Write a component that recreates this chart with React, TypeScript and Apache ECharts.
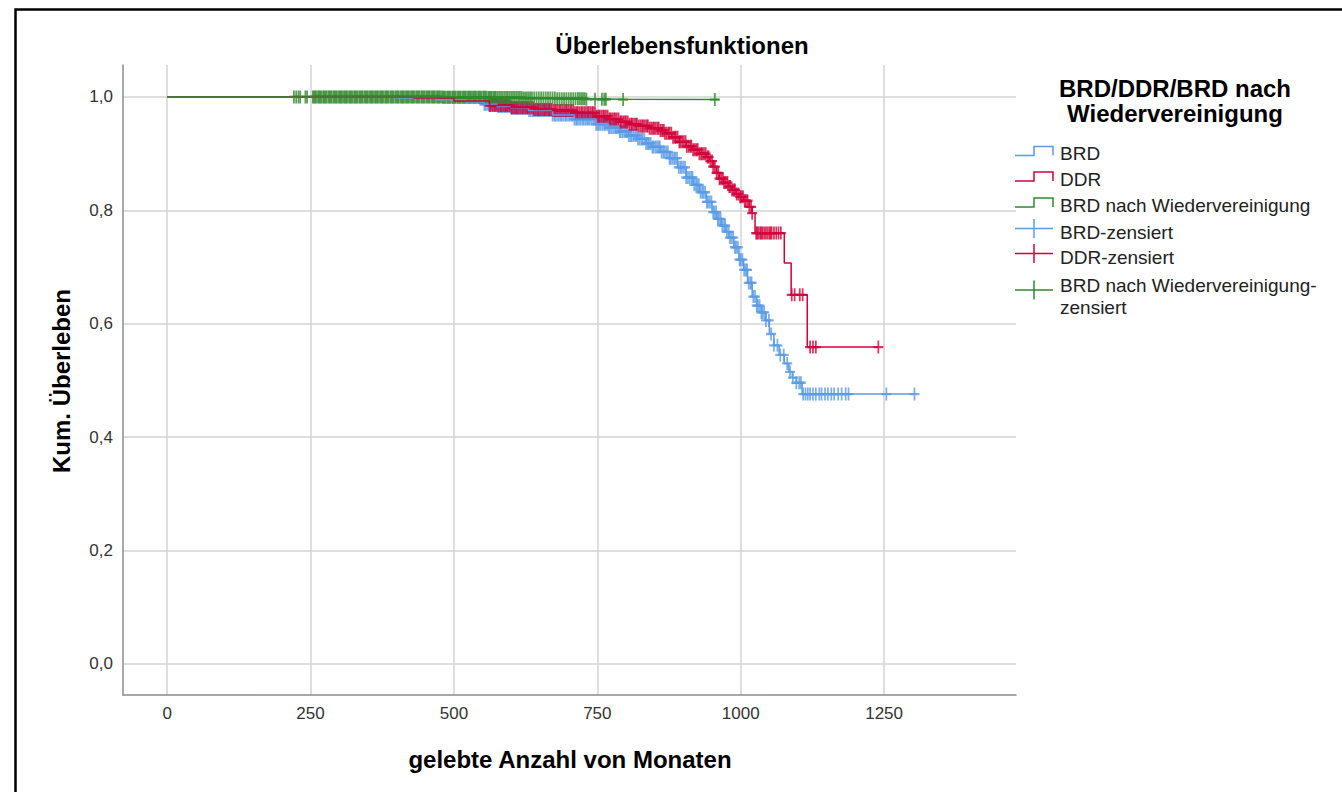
import { useEffect, useRef } from 'react';
import * as echarts from 'echarts';

// ---------- data ----------
const groupNames = ['BRD', 'DDR', 'BRD nach Wiedervereinigung'];
const censorLabels = ['BRD-zensiert', 'DDR-zensiert', 'BRD nach Wiedervereinigung-\nzensiert'];
const chartTitle = 'Überlebensfunktionen';
const legendTitle = 'BRD/DDR/BRD nach\nWiedervereinigung';
const xAxisTitle = 'gelebte Anzahl von Monaten';
const yAxisTitle = 'Kum. Überleben';
const xTicks = [0, 250, 500, 750, 1000, 1250];
const yTicks = [0, 0.2, 0.4, 0.6, 0.8, 1.0];

// Kaplan-Meier steps: [month, cumulative survival]
const brdCurve: [number, number][] = [
  [0, 1], [400, 0.998], [470, 0.995], [520, 0.991], [553, 0.987], [575, 0.983], [600, 0.98],
  [630, 0.976], [672, 0.968], [710, 0.961], [748, 0.952], [770, 0.946], [788, 0.939],
  [805, 0.932], [820, 0.926], [835, 0.918], [846, 0.912], [860, 0.903], [876, 0.892],
  [890, 0.876], [905, 0.858], [917, 0.845], [928, 0.832], [940, 0.815], [950, 0.797],
  [958, 0.785], [966, 0.773], [974, 0.762], [980, 0.752], [988, 0.735], [997, 0.713],
  [1005, 0.695], [1012, 0.672], [1020, 0.648], [1028, 0.632], [1036, 0.62], [1044, 0.606],
  [1050, 0.582], [1058, 0.562], [1067, 0.545], [1076, 0.53], [1084, 0.515], [1090, 0.505],
  [1097, 0.496], [1107, 0.476], [1305, 0.476],
];
const ddrCurve: [number, number][] = [
  [0, 1], [430, 0.998], [500, 0.993], [562, 0.985], [600, 0.981], [640, 0.978], [672, 0.976],
  [710, 0.972], [748, 0.966], [770, 0.961], [788, 0.956], [805, 0.952], [820, 0.949],
  [840, 0.945], [858, 0.941], [868, 0.936], [880, 0.929], [893, 0.921], [905, 0.913],
  [915, 0.907], [928, 0.9], [940, 0.894], [946, 0.887], [952, 0.877], [958, 0.866],
  [963, 0.856], [970, 0.849], [978, 0.842], [985, 0.836], [992, 0.829], [997, 0.824],
  [1005, 0.817], [1015, 0.806], [1020, 0.795], [1025, 0.76], [1076, 0.707], [1088, 0.651],
  [1116, 0.559], [1241, 0.559],
];
const wvCurve: [number, number][] = [
  [0, 1], [480, 0.9995], [560, 0.999], [620, 0.998], [680, 0.997], [730, 0.996], [795, 0.9955],
  [962, 0.9955],
];

// censored observations (months)
const brdCensored = [
  553, 555, 558, 561, 563, 566, 569, 572, 574, 577, 580, 582, 585, 588, 591, 593, 596, 599, 601,
  604, 607, 610, 612, 615, 618, 620, 623, 626, 629, 631, 634, 637, 639, 642, 645, 648, 650, 653,
  656, 658, 661, 664, 667, 669, 672, 675, 677, 680, 683, 686, 688, 691, 694, 696, 699, 702, 705,
  707, 710, 713, 715, 718, 721, 724, 726, 729, 732, 734, 737, 740, 743, 745, 748, 751, 753, 756,
  759, 762, 764, 767, 770, 772, 775, 778, 781, 783, 786, 789, 791, 794, 797, 800, 802, 805, 808,
  810, 813, 816, 819, 821, 824, 827, 829, 832, 835, 838, 840, 843, 846, 848, 851, 854, 857, 859,
  862, 865, 867, 870, 873, 876, 878, 881, 884, 886, 889, 892, 895, 897, 900, 903, 905, 908, 911,
  914, 916, 919, 922, 924, 927, 930, 933, 935, 938, 941, 943, 946, 949, 952, 954, 957, 960, 962,
  965, 968, 971, 973, 976, 979, 981, 984, 987, 990, 992, 995, 998, 1000, 1003, 1006, 1009, 1011,
  1014, 1017, 1019, 1022, 1025, 1028, 1030, 1033, 1036, 1038, 1041, 1044, 1049, 1053, 1058,
  1064, 1069, 1075, 1081, 1086, 1091, 1097, 1102, 1105, 1109, 1113, 1117, 1121, 1126, 1131,
  1137, 1141, 1147, 1152, 1158, 1163, 1170, 1176, 1183, 1188, 1254, 1303,
];
const ddrCensored = [
  562, 564, 567, 570, 572, 575, 578, 581, 583, 586, 589, 591, 594, 597, 600, 602, 605, 608, 610,
  613, 616, 619, 621, 624, 627, 629, 632, 635, 638, 640, 643, 646, 648, 651, 654, 657, 659, 662,
  665, 667, 670, 673, 676, 678, 681, 684, 686, 689, 692, 695, 697, 700, 703, 705, 708, 711, 714,
  716, 719, 722, 724, 727, 730, 733, 735, 738, 741, 743, 746, 749, 752, 754, 757, 760, 762, 765,
  768, 771, 773, 776, 779, 781, 784, 787, 790, 792, 795, 798, 800, 803, 806, 809, 811, 814, 817,
  819, 822, 825, 828, 830, 833, 836, 838, 841, 844, 847, 849, 852, 855, 857, 860, 863, 866, 868,
  871, 874, 876, 879, 882, 885, 887, 890, 893, 895, 898, 901, 904, 906, 909, 912, 914, 917, 920,
  923, 925, 928, 931, 933, 936, 939, 942, 944, 947, 950, 952, 955, 958, 961, 963, 966, 969, 971,
  974, 977, 980, 982, 985, 988, 990, 993, 996, 999, 1001, 1004, 1007, 1009, 1012, 1015, 1018,
  1020, 1027, 1029, 1031, 1034, 1036, 1038, 1041, 1044, 1047, 1050, 1052, 1054, 1058, 1062,
  1066, 1070, 1089, 1094, 1103, 1108, 1121, 1126, 1131, 1240,
];
const wvCensored = [
  221, 225, 229, 232, 241, 244, 254, 256, 258, 260, 263, 265, 267, 269, 272, 274, 276, 278, 281,
  283, 285, 287, 290, 292, 294, 296, 299, 301, 303, 305, 308, 310, 312, 314, 317, 319, 321, 323,
  326, 328, 330, 332, 335, 337, 339, 341, 344, 346, 348, 350, 353, 355, 357, 359, 362, 364, 366,
  368, 371, 373, 375, 377, 380, 382, 384, 386, 389, 391, 393, 395, 398, 400, 402, 404, 407, 409,
  411, 413, 416, 418, 420, 422, 425, 427, 429, 431, 434, 436, 438, 440, 443, 445, 447, 449, 452,
  454, 456, 458, 461, 463, 465, 467, 470, 472, 474, 476, 479, 481, 483, 485, 488, 490, 492, 494,
  497, 499, 501, 503, 506, 508, 510, 512, 515, 517, 519, 521, 524, 526, 528, 530, 533, 535, 537,
  539, 542, 544, 546, 548, 551, 553, 555, 557, 560, 562, 564, 566, 569, 571, 573, 576, 579, 582,
  585, 588, 591, 594, 597, 600, 603, 606, 609, 612, 615, 618, 621, 624, 627, 630, 633, 636, 640,
  644, 648, 652, 656, 660, 664, 668, 672, 676, 680, 684, 688, 692, 696, 700, 704, 708, 712, 716,
  719, 722, 725, 728, 731, 746, 758, 762, 765, 795, 955,
];

const colors = ['#5A9BE6', '#D2033B', '#2E8A2C'];
const curves = [brdCurve, ddrCurve, wvCurve];
const censored = [brdCensored, ddrCensored, wvCensored];

// survival value of a step curve at time t (last step at or before t)
function survivalAt(curve: [number, number][], t: number): number {
  let s = curve[0][1];
  for (const [tt, v] of curve) {
    if (tt <= t) s = v;
    else break;
  }
  return s;
}

const FONT = '"Liberation Sans", Arial, Helvetica, sans-serif';
const PLUS = 'path://M5,0L5,13M0,6.5L10,6.5';

export default function App() {
  const ref = useRef<HTMLDivElement>(null);

  useEffect(() => {
    if (!ref.current) return;
    const chart = echarts.init(ref.current, null, { renderer: 'svg' });

    const series: any[] = [];
    for (let i = 0; i < 3; i++) {
      series.push({
        name: groupNames[i],
        type: 'line',
        step: 'end',
        data: curves[i],
        showSymbol: false,
        symbol: 'none',
        lineStyle: { color: colors[i], width: 1.5 },
        itemStyle: { color: colors[i] },
        emphasis: { disabled: true },
        silent: true,
      });
      series.push({
        name: censorLabels[i],
        type: 'scatter',
        data: censored[i].map((t) => [t, survivalAt(curves[i], t)]),
        symbol: PLUS,
        symbolSize: [10, 13],
        itemStyle: { color: colors[i], borderColor: colors[i], borderWidth: 2 },
        emphasis: { disabled: true },
        silent: true,
      });
    }

    // legend drawn as graphic
    const legendEls: any[] = [];
    const itemY = [153.5, 179, 205, 231, 256, 284];
    for (let i = 0; i < 3; i++) {
      const cy = itemY[i];
      legendEls.push({
        type: 'polyline',
        shape: { points: [[1015, cy + 2], [1034, cy + 2], [1034, cy - 7], [1053, cy - 7], [1053, cy + 2]] },
        style: { stroke: colors[i], lineWidth: 1.5, fill: null },
        silent: true,
      });
      legendEls.push({
        type: 'text',
        x: 1060,
        y: cy,
        style: { text: groupNames[i], font: `19px ${FONT}`, fill: '#222', align: 'left', verticalAlign: 'middle' },
        silent: true,
      });
    }
    for (let i = 0; i < 3; i++) {
      const cy = itemY[3 + i];
      const ly = i === 2 ? cy + 6 : cy - 2.5;
      legendEls.push({
        type: 'line',
        shape: { x1: 1015, y1: ly, x2: 1053, y2: ly },
        style: { stroke: colors[i], lineWidth: 1.5 },
        silent: true,
      });
      legendEls.push({
        type: 'line',
        shape: { x1: 1034, y1: ly - 9.5, x2: 1034, y2: ly + 9.5 },
        style: { stroke: colors[i], lineWidth: 1.5 },
        silent: true,
      });
      legendEls.push({
        type: 'text',
        x: 1060,
        y: cy - 10,
        style: {
          text: censorLabels[i],
          font: `19px ${FONT}`,
          fill: '#222',
          align: 'left',
          verticalAlign: 'top',
          lineHeight: 22,
        },
        silent: true,
      });
    }

    const isTick = (v: number, ticks: number[]) => ticks.some((t) => Math.abs(t - v) < 1e-6);

    chart.setOption({
      animation: false,
      backgroundColor: '#ffffff',
      grid: { left: 123, right: 326, top: 65, bottom: 97, containLabel: false },
      xAxis: {
        type: 'value',
        min: -77,
        max: 1480,
        minInterval: 250,
        maxInterval: 250,
        axisLine: { show: true, onZero: false, lineStyle: { color: '#8c8c8c', width: 1.5 } },
        axisTick: { show: false, customValues: xTicks },
        axisLabel: {
          customValues: xTicks,
          margin: 10,
          color: '#333',
          fontSize: 17,
          fontFamily: FONT,
          formatter: (v: number) => (isTick(v, xTicks) ? String(v) : ''),
        },
        splitLine: { show: true, lineStyle: { color: '#d3d3d3', width: 1.5 } },
      },
      yAxis: {
        type: 'value',
        min: -0.0547,
        max: 1.0564,
        minInterval: 0.2,
        maxInterval: 0.2,
        axisLine: { show: true, onZero: false, lineStyle: { color: '#8c8c8c', width: 1.5 } },
        axisTick: { show: false, customValues: yTicks },
        axisLabel: {
          customValues: yTicks,
          margin: 10,
          color: '#333',
          fontSize: 17,
          fontFamily: FONT,
          formatter: (v: number) => (isTick(v, yTicks) ? v.toFixed(1).replace('.', ',') : ''),
        },
        splitLine: { show: true, lineStyle: { color: '#d3d3d3', width: 1.5 } },
      },
      series,
      graphic: [
        {
          type: 'rect',
          shape: { x: 15.5, y: 9.5, width: 1500, height: 1000 },
          style: { fill: null, stroke: '#000', lineWidth: 2.5 },
          silent: true,
          z: 100,
        },
        {
          type: 'text',
          x: 682,
          y: 45,
          style: { text: chartTitle, font: `bold 24px ${FONT}`, fill: '#000', align: 'center', verticalAlign: 'middle' },
          silent: true,
        },
        {
          type: 'text',
          x: 61,
          y: 381,
          rotation: Math.PI / 2,
          style: { text: yAxisTitle, font: `bold 24px ${FONT}`, fill: '#000', align: 'center', verticalAlign: 'middle' },
          silent: true,
        },
        {
          type: 'text',
          x: 570,
          y: 759,
          style: { text: xAxisTitle, font: `bold 24px ${FONT}`, fill: '#000', align: 'center', verticalAlign: 'middle' },
          silent: true,
        },
        {
          type: 'text',
          x: 1175,
          y: 76,
          style: {
            text: legendTitle,
            font: `bold 24px ${FONT}`,
            fill: '#000',
            align: 'center',
            verticalAlign: 'top',
            lineHeight: 25,
          },
          silent: true,
        },
        ...legendEls,
      ],
    });

    return () => chart.dispose();
  }, []);

  return (
    <div
      ref={ref}
      style={{ position: 'fixed', left: 0, top: 0, width: 1342, height: 792, background: '#fff' }}
    />
  );
}
